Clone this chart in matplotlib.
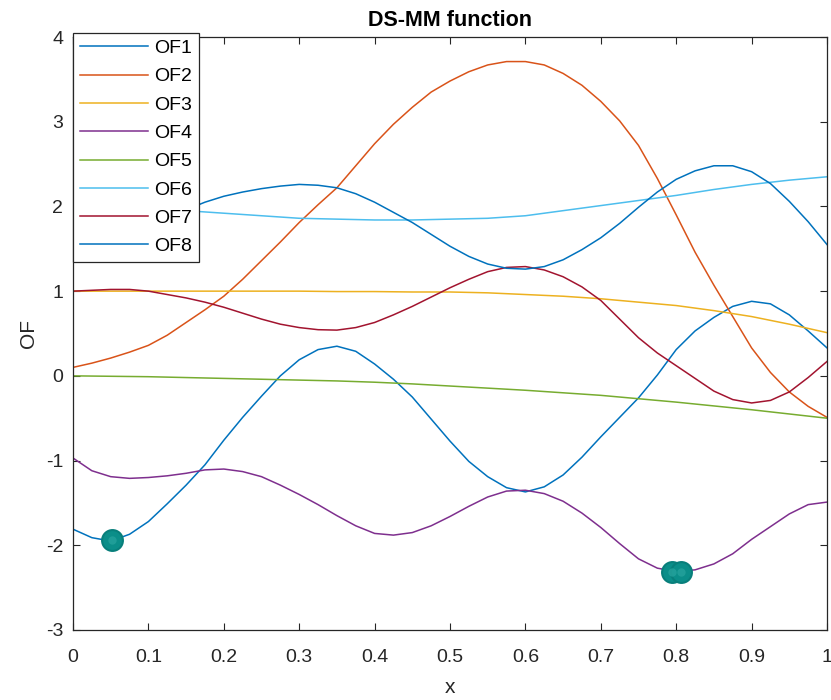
import numpy as np
import matplotlib
matplotlib.use("Agg")
import matplotlib.pyplot as plt

# values
# wavy curves sampled every 0.025, flat ones every 0.05
x40 = [round(0.025 * i, 3) for i in range(41)]
x20 = [round(0.05 * i, 2) for i in range(21)]

of1 = [-1.81, -1.91, -1.95, -1.87, -1.72, -1.51, -1.29, -1.05, -0.76, -0.49,
       -0.24, 0.00, 0.19, 0.31, 0.35, 0.29, 0.14, -0.04, -0.25, -0.51,
       -0.77, -1.01, -1.19, -1.32, -1.37, -1.31, -1.17, -0.96, -0.72, -0.49,
       -0.26, 0.01, 0.31, 0.53, 0.69, 0.82, 0.88, 0.85, 0.72, 0.53,
       0.33]
of2 = [0.10, 0.15, 0.21, 0.28, 0.36, 0.48, 0.63, 0.78, 0.94, 1.14,
       1.36, 1.58, 1.81, 2.02, 2.22, 2.48, 2.74, 2.97, 3.17, 3.35,
       3.48, 3.59, 3.67, 3.71, 3.71, 3.67, 3.57, 3.43, 3.24, 3.01,
       2.72, 2.33, 1.90, 1.46, 1.07, 0.70, 0.33, 0.04, -0.19, -0.36,
       -0.49]
of3 = [1.00, 1.00, 1.00, 1.00, 1.00, 1.00, 1.00, 0.995, 0.995, 0.99, 0.99,
       0.98, 0.96, 0.94, 0.91, 0.87, 0.83, 0.77, 0.70, 0.61, 0.51]
of4 = [-0.97, -1.12, -1.19, -1.21, -1.20, -1.18, -1.15, -1.11, -1.10, -1.13,
       -1.19, -1.29, -1.40, -1.52, -1.65, -1.77, -1.86, -1.88, -1.85, -1.77,
       -1.66, -1.54, -1.43, -1.36, -1.35, -1.39, -1.48, -1.62, -1.79, -1.98,
       -2.16, -2.27, -2.31, -2.29, -2.22, -2.10, -1.93, -1.78, -1.63, -1.52,
       -1.49]
of5 = [0.00, -0.005, -0.01, -0.02, -0.03, -0.04, -0.05, -0.06, -0.075, -0.095, -0.12,
       -0.145, -0.17, -0.20, -0.23, -0.27, -0.31, -0.355, -0.40, -0.45, -0.50]
of6 = [2.00, 1.99, 1.97, 1.95, 1.92, 1.89, 1.86, 1.85, 1.84, 1.84, 1.85,
       1.86, 1.89, 1.95, 2.01, 2.07, 2.13, 2.20, 2.26, 2.31, 2.35]
of7 = [1.00, 1.01, 1.02, 1.02, 1.00, 0.96, 0.92, 0.87, 0.81, 0.74,
       0.67, 0.61, 0.57, 0.545, 0.54, 0.57, 0.63, 0.72, 0.82, 0.93,
       1.04, 1.14, 1.23, 1.28, 1.29, 1.25, 1.17, 1.05, 0.89, 0.67,
       0.45, 0.27, 0.12, -0.03, -0.18, -0.28, -0.32, -0.29, -0.19, -0.02,
       0.17]
of8 = [1.50, 1.56, 1.62, 1.69, 1.77, 1.86, 1.96, 2.05, 2.12, 2.17,
       2.21, 2.24, 2.26, 2.25, 2.22, 2.15, 2.05, 1.93, 1.81, 1.67,
       1.53, 1.41, 1.32, 1.27, 1.26, 1.29, 1.37, 1.49, 1.63, 1.80,
       1.99, 2.17, 2.32, 2.42, 2.48, 2.48, 2.41, 2.27, 2.06, 1.82,
       1.55]

# minima found (scatter points)
min_x = [0.052, 0.795, 0.806]
min_y = [-1.94, -2.31, -2.31]

names = ["OF1", "OF2", "OF3", "OF4", "OF5", "OF6", "OF7", "OF8"]
colors = ["#0072BD", "#D95319", "#EDB120", "#7E2F8E",
          "#77AC30", "#4DBEEE", "#A2142F", "#0072BD"]

plt.rcParams['font.family'] = ['Liberation Sans', 'DejaVu Sans']
plt.rcParams['axes.unicode_minus'] = False

fig = plt.figure(figsize=(8.31, 7.0), dpi=100)
ax = fig.add_axes([73/831, 1-630/700, (827-73)/831, (630-37)/700])

series = [(x40, of1), (x40, of2), (x20, of3), (x40, of4),
          (x20, of5), (x20, of6), (x40, of7), (x40, of8)]
for (xs, ys), nm, c in zip(series, names, colors):
    ax.plot(xs, ys, color=c, lw=1.1, label=nm)

ax.plot(min_x, min_y, 'o', ms=15, mfc='#0b8e89', mec='#087f7b', mew=1.5, zorder=5)
ax.plot(min_x, min_y, 'o', ms=6, mfc='#25a29c', mec='none', alpha=0.8, zorder=6)

ax.set_xlim(0, 1)
ax.set_ylim(-3, 4)
ax.set_xticks(np.arange(0, 1.01, 0.1))
ax.set_xticklabels(["0", "0.1", "0.2", "0.3", "0.4", "0.5", "0.6", "0.7", "0.8", "0.9", "1"])
ax.set_yticks(range(-3, 5))
ax.tick_params(direction='in', length=5, width=0.8, top=True, right=True,
               labelsize=14, colors='#262626', pad=7)
ax.tick_params(axis='x', pad=14)
for s in ax.spines.values():
    s.set_color('#262626')
    s.set_linewidth(0.9)

ax.set_title("DS-MM function", fontsize=15.5, fontweight='bold', color='black', pad=8)
ax.set_xlabel("x", fontsize=15, color='#262626', labelpad=8)
ax.set_ylabel("OF", fontsize=15, color='#262626', labelpad=6)

leg = ax.legend(loc='upper left', bbox_to_anchor=(73/831, 1-32.7/700),
                bbox_transform=fig.transFigure, fontsize=14, frameon=True,
                fancybox=False, framealpha=1, edgecolor='#262626',
                borderpad=0.35, labelspacing=0.55, handlelength=3.5,
                handletextpad=0.3, borderaxespad=0)
leg.get_frame().set_linewidth(0.9)
leg.set_zorder(10)

fig.savefig("out.png", dpi=100)
